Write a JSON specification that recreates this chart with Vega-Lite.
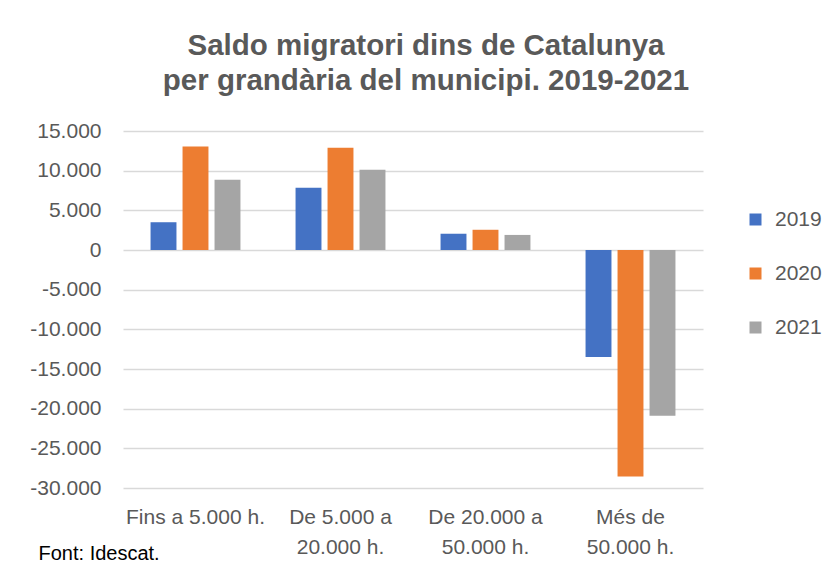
{
  "$schema": "https://vega.github.io/schema/vega-lite/v6.json",
  "width": 580,
  "height": 357,
  "autosize": {"type": "none"},
  "padding": {"left": 123, "top": 131, "right": 123, "bottom": 85},
  "background": "white",
  "title": {
    "text": ["Saldo migratori dins de Catalunya", "per grandària del municipi. 2019-2021"],
    "font": "Liberation Sans",
    "fontSize": 29.5,
    "fontWeight": "bold",
    "color": "#595959",
    "lineHeight": 35,
    "anchor": "middle",
    "dx": 13,
    "offset": 24
  },
  "data": {
    "values": [
      {"grup": "Fins a 5.000 h.", "any": "2019", "saldo": 3500},
      {"grup": "Fins a 5.000 h.", "any": "2020", "saldo": 13050},
      {"grup": "Fins a 5.000 h.", "any": "2021", "saldo": 8850},
      {"grup": "De 5.000 a 20.000 h.", "any": "2019", "saldo": 7850},
      {"grup": "De 5.000 a 20.000 h.", "any": "2020", "saldo": 12900},
      {"grup": "De 5.000 a 20.000 h.", "any": "2021", "saldo": 10100},
      {"grup": "De 20.000 a 50.000 h.", "any": "2019", "saldo": 2050},
      {"grup": "De 20.000 a 50.000 h.", "any": "2020", "saldo": 2550},
      {"grup": "De 20.000 a 50.000 h.", "any": "2021", "saldo": 1900},
      {"grup": "Més de 50.000 h.", "any": "2019", "saldo": -13500},
      {"grup": "Més de 50.000 h.", "any": "2020", "saldo": -28550},
      {"grup": "Més de 50.000 h.", "any": "2021", "saldo": -20900}
    ]
  },
  "mark": {"type": "bar"},
  "encoding": {
    "x": {
      "field": "grup",
      "type": "nominal",
      "sort": ["Fins a 5.000 h.", "De 5.000 a 20.000 h.", "De 20.000 a 50.000 h.", "Més de 50.000 h."],
      "scale": {"paddingInner": 0.38, "paddingOuter": 0.19},
      "axis": {
        "title": "Font: Idescat.",
        "titleFont": "Liberation Sans",
        "titleFontSize": 20,
        "titleFontWeight": "normal",
        "titleColor": "#000000",
        "titleAnchor": "start",
        "titleAlign": "left",
        "titleBaseline": "alphabetic",
        "titleX": -85,
        "titleY": 71,
        "labelAngle": 0,
        "labelFont": "Liberation Sans",
        "labelFontSize": 21,
        "labelColor": "#595959",
        "labelLineHeight": 30,
        "labelBaseline": "top",
        "labelPadding": 18,
        "labelExpr": "datum.value == 'De 5.000 a 20.000 h.' ? ['De 5.000 a', '20.000 h.'] : datum.value == 'De 20.000 a 50.000 h.' ? ['De 20.000 a', '50.000 h.'] : datum.value == 'Més de 50.000 h.' ? ['Més de', '50.000 h.'] : datum.value",
        "domain": false,
        "ticks": false,
        "grid": false
      }
    },
    "xOffset": {
      "field": "any",
      "type": "nominal",
      "scale": {"paddingInner": 0.19, "paddingOuter": 0}
    },
    "y": {
      "field": "saldo",
      "type": "quantitative",
      "scale": {"domain": [-30000, 15000], "nice": false, "zero": true},
      "axis": {
        "title": null,
        "values": [-30000, -25000, -20000, -15000, -10000, -5000, 0, 5000, 10000, 15000],
        "format": ",d",
        "labelFont": "Liberation Sans",
        "labelFontSize": 21,
        "labelColor": "#595959",
        "labelPadding": 22,
        "domain": false,
        "ticks": false,
        "grid": true,
        "gridColor": "#d9d9d9",
        "gridWidth": 1.6
      }
    },
    "color": {
      "field": "any",
      "type": "nominal",
      "scale": {"domain": ["2019", "2020", "2021"], "range": ["#4472C4", "#ED7D31", "#A5A5A5"]},
      "legend": {
        "title": null,
        "orient": "none",
        "legendX": 622,
        "legendY": 78,
        "symbolType": "square",
        "symbolSize": 144,
        "symbolStrokeWidth": 0,
        "labelFont": "Liberation Sans",
        "labelFontSize": 21,
        "labelColor": "#595959",
        "labelOffset": 9,
        "rowPadding": 32
      }
    }
  },
  "config": {
    "view": {"stroke": null},
    "locale": {
      "number": {
        "decimal": ",",
        "thousands": ".",
        "grouping": [3],
        "currency": ["", " €"],
        "minus": "-"
      }
    }
  }
}
